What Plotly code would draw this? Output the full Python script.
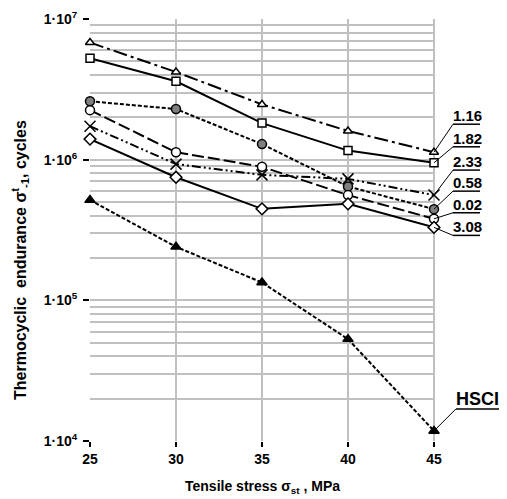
import math
import plotly.graph_objects as go

stress = [25, 30, 35, 40, 45]

labels = ["1.16", "1.82", "2.33", "0.58", "0.02", "3.08", "HSCI"]
s_116 = [6.8e6, 4.2e6, 2.47e6, 1.6e6, 1.13e6]
s_182 = [5.26e6, 3.61e6, 1.82e6, 1.16e6, 9.5e5]
s_233 = [1.73e6, 9.3e5, 7.8e5, 7.3e5, 5.6e5]
s_058 = [2.6e6, 2.29e6, 1.29e6, 6.44e5, 4.45e5]
s_002 = [2.25e6, 1.13e6, 8.9e5, 5.6e5, 3.8e5]
s_308 = [1.4e6, 7.5e5, 4.47e5, 4.85e5, 3.3e5]
s_hsci = [5.16e5, 2.4e5, 1.34e5, 5.3e4, 1.18e4]

series = [s_116, s_182, s_233, s_058, s_002, s_308, s_hsci]

styles = [
    dict(dash="14px,4px,3px,4px", symbol="triangle-up", fill="white", size=8),
    dict(dash="solid", symbol="square", fill="white", size=8),
    dict(dash="9px,3px,2px,3px,2px,3px", symbol="x-thin-open", fill="black", size=11),
    dict(dash="4px,2px", symbol="circle", fill="#808080", size=9),
    dict(dash="12px,4px", symbol="circle", fill="white", size=9),
    dict(dash="solid", symbol="diamond", fill="white", size=9),
    dict(dash="4px,2px", symbol="triangle-up", fill="black", size=9),
]

# label offsets in pixels relative to last marker: (rise of underline, underline start, length)
label_off = [(28, 19, 27), (16, 19, 27), (25, 19, 27), (18, 19, 27), (6, 19, 27), (-8, 19, 27), (22, 22, 51)]

FONT = "Liberation Sans, Arial"

# layout geometry (the page has an 8px body margin, so the figure is 8px smaller)
W, H = 499, 491
ML, MR, MT, MB = 82, 73, 11, 58
PW, PH = W - ML - MR, H - MT - MB
Y_LO, Y_HI = 4, 7
X_LO, X_HI = 25, 45


def yfrac(v):
    return (math.log10(v) - Y_LO) / (Y_HI - Y_LO)


def xfrac(v):
    return (v - X_LO) / (X_HI - X_LO)


fig = go.Figure()
for name, ys, st in zip(labels, series, styles):
    fig.add_trace(go.Scatter(
        x=stress, y=ys, mode="lines+markers", name=name, cliponaxis=False,
        line=dict(color="black", width=2, dash=st["dash"]),
        marker=dict(symbol=st["symbol"], size=st["size"], color=st["fill"],
                    line=dict(color="black", width=1.5)),
        showlegend=False,
    ))

for name, ys, (dy, dx, ln) in zip(labels, series, label_off):
    fx, fy = xfrac(stress[-1]), yfrac(ys[-1])
    big = name == "HSCI"
    fnt = dict(size=18 if big else 15, color="black", family=FONT)
    # leader line from the last marker to the start of the underline
    fig.add_shape(type="line", xref="paper", yref="paper", xsizemode="pixel", ysizemode="pixel",
                  xanchor=fx, yanchor=fy, x0=0, y0=0, x1=dx, y1=dy,
                  line=dict(color="black", width=1), layer="above")
    # underline
    fig.add_shape(type="line", xref="paper", yref="paper", xsizemode="pixel", ysizemode="pixel",
                  xanchor=fx, yanchor=fy, x0=dx, y0=dy, x1=dx + ln, y1=dy,
                  line=dict(color="black", width=1.5), layer="above")
    # label
    fig.add_annotation(xref="paper", yref="paper",
                       x=fx + (dx - 1) / PW, y=fy + (dy - 1) / PH,
                       text="<b>%s</b>" % name, showarrow=False,
                       xanchor="left", yanchor="bottom", borderpad=0, font=fnt)

fig.add_annotation(xref="paper", yref="paper", x=-0.205, y=0.43, textangle=-90,
                   xanchor="center", yanchor="middle",
                   text="<b>Thermocyclic  endurance σ<sup>t</sup><sub>-1</sub>, cycles</b>",
                   showarrow=False, font=dict(size=16, color="black", family=FONT))
fig.add_annotation(xref="paper", yref="paper", x=0.5, y=-0.11, xanchor="center",
                   text="<b>Tensile stress σ<sub>st</sub> , MPa</b>", yanchor="middle",
                   showarrow=False, font=dict(size=14, color="black", family=FONT))

grid = "#c0c0c0"
fig.update_layout(
    width=W, height=H,
    margin=dict(l=ML, r=MR, t=MT, b=MB),
    paper_bgcolor="white", plot_bgcolor="white",
    font=dict(family=FONT, color="black"),
    xaxis=dict(range=[X_LO, X_HI], tickvals=stress, ticktext=["<b>%d</b>" % v for v in stress],
               showgrid=True, gridcolor=grid, gridwidth=2, zeroline=False, automargin=False,
               ticks="outside", ticklen=5, tickcolor="black", tickwidth=2,
               tickfont=dict(size=14), showline=False),
    yaxis=dict(type="log", range=[Y_LO, Y_HI],
               tickvals=[1e4, 1e5, 1e6, 1e7],
               ticktext=["<b>1·10<sup>4</sup></b>", "<b>1·10<sup>5</sup></b>",
                         "<b>1·10<sup>6</sup></b>", "<b>1·10<sup>7</sup></b>"],
               showgrid=True, gridcolor=grid, gridwidth=2, zeroline=False, automargin=False,
               ticks="outside", ticklen=6, tickcolor="black", tickwidth=2,
               tickfont=dict(size=14), showline=False, ticklabelstandoff=3,
               minor=dict(dtick="D1", showgrid=True, gridcolor=grid, gridwidth=2, ticks="")),
)
fig.add_shape(type="line", xref="paper", yref="paper", x0=1, x1=1, y0=0, y1=1,
              line=dict(color=grid, width=2), layer="below")

fig.write_html("out.html", config={"displayModeBar": False})
